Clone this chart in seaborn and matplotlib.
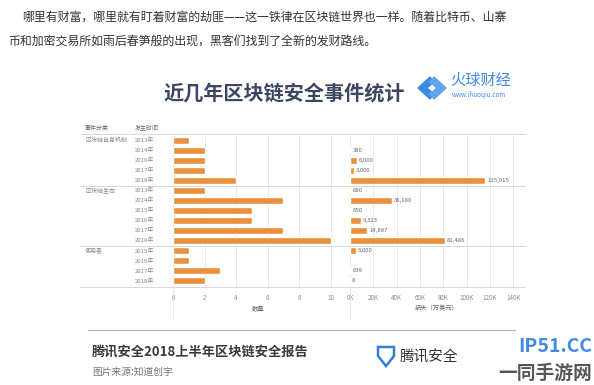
import numpy as np
import pandas as pd
import matplotlib.pyplot as plt
import seaborn as sns
from matplotlib.lines import Line2D
from matplotlib.patches import Polygon

sns.set_theme(style="white")
plt.rcParams['font.family'] = ['Noto Sans CJK SC', 'DejaVu Sans']

W, H = 594, 385

# ---- data ----
groups = ["区块链自身机制"] * 5 + ["区块链生态"] * 6 + ["使用者"] * 4
years = ["2013年", "2014年", "2016年", "2017年", "2018年",
         "2013年", "2014年", "2015年", "2016年", "2017年", "2018年",
         "2015年", "2016年", "2017年", "2018年"]
counts = [1, 2, 2, 2, 4, 2, 7, 5, 5, 7, 10, 1, 1, 3, 2]
losses = [np.nan, 380, 6000, 3000, 115915, 680, 36180, 650, 9323, 14887, 81486,
          5000, np.nan, 639, 8]
count_ticks = [0, 2, 4, 6, 8, 10]
loss_ticks = [0, 20000, 40000, 60000, 80000, 100000, 120000, 140000]
loss_tick_labels = ["0K", "20K", "40K", "60K", "80K", "100K", "120K", "140K"]

intro = ["哪里有财富，哪里就有盯着财富的劫匪——这一铁律在区块链世界也一样。随着比特币、山寨",
         "币和加密交易所如雨后春笋般的出现，黑客们找到了全新的发财路线。"]
title = "近几年区块链安全事件统计"
footer_title = "腾讯安全2018上半年区块链安全报告"
footer_src = "图片来源:知道创宇"

rows = [f"r{i}" for i in range(len(counts))]
df = pd.DataFrame({"row": rows, "group": groups, "year": years,
                   "count": counts, "loss": losses})

BAR = "#E8913A"
GRID = "#E4E4E4"
TXT = "#8A8A8A"


def fx(x):
    return x / W


def fy(y):
    return 1 - y / H


def add_ax(x0, x1, y0, y1):
    return fig.add_axes([fx(x0), fy(y1), (x1 - x0) / W, (y1 - y0) / H])


fig = plt.figure(figsize=(W / 100, H / 100), dpi=100)
fig.patch.set_facecolor("white")

# intro paragraph
fig.text(fx(22), fy(17), intro[0], fontsize=8.6, color="#333333", va="center")
fig.text(fx(8), fy(41), intro[1], fontsize=8.6, color="#333333", va="center")

# chart title + logo
fig.text(fx(284), fy(93), title, fontsize=14.5, fontweight="bold", color="#3B4762",
         ha="center", va="center")
fig.text(fx(450), fy(80), "火球财经", fontsize=11, color="#3C8CE7", va="center")
fig.text(fx(452), fy(95), "www.ihuoqiu.com", fontsize=4.5, color="#3C8CE7", va="center")
fig.patches.append(Polygon([[fx(430), fy(77)], [fx(418), fy(88)], [fx(430), fy(99)],
                            [fx(434), fy(94)], [fx(427), fy(88)], [fx(434), fy(82)]],
                           closed=True, transform=fig.transFigure, color="#3C8CE7"))
fig.patches.append(Polygon([[fx(434), fy(77)], [fx(446), fy(88)], [fx(434), fy(99)],
                            [fx(430), fy(94)], [fx(437), fy(88)], [fx(430), fy(82)]],
                           closed=True, transform=fig.transFigure, color="#5FA8F0"))

top, bottom = 134, 287
ylim = (14.6, -0.6)

# left panel: number of events
ax1 = add_ax(173, 347, top, bottom)
sns.barplot(data=df, y="row", x="count", order=rows, orient="h", color=BAR,
            width=0.7, saturation=1, ax=ax1)
ax1.set_xlim(0, 11.03)
ax1.set_xticks(count_ticks)

# right panel: losses
ax2 = add_ax(350, 525, top, bottom)
sns.barplot(data=df, y="row", x="loss", order=rows, orient="h", color=BAR,
            width=0.7, saturation=1, ax=ax2)
ax2.set_xlim(0, 150000)
ax2.set_xticks(loss_ticks)
ax2.set_xticklabels(loss_tick_labels)
for i, v in enumerate(losses):
    if not np.isnan(v):
        ax2.text(v + 1800, i, f"{v:,.0f}", fontsize=4.3, color="#666666", va="center")

for ax in (ax1, ax2):
    ax.set_ylim(*ylim)
    ax.set_yticks([])
    ax.set_ylabel("")
    ax.set_xlabel("")
    ax.set_facecolor("none")
    for s in ax.spines.values():
        s.set_visible(False)
    ax.grid(axis="x", color=GRID, linewidth=0.6)
    ax.set_axisbelow(True)
    ax.tick_params(axis="x", labelsize=4.5, labelcolor=TXT, length=0, pad=5)

# row labels
for i, (g, y) in enumerate(zip(groups, years)):
    yy = 140 + i * (281 - 140) / 14
    if i == 0 or groups[i - 1] != g:
        fig.text(fx(85), fy(yy), g, fontsize=4.3, color=TXT, va="center")
    fig.text(fx(135), fy(yy), y, fontsize=4.3, color=TXT, va="center")
fig.text(fx(85), fy(128), "事件分类", fontsize=4.3, color="#666666", va="center")
fig.text(fx(135), fy(128), "发生时间", fontsize=4.3, color="#666666", va="center")

# table lines
for yy in (134, 186, 246, 287):
    fig.add_artist(Line2D([fx(80), fx(525)], [fy(yy), fy(yy)], color="#D8D8D8", lw=0.7))
for xx in (173, 350):
    fig.add_artist(Line2D([fx(xx), fx(xx)], [fy(287), fy(318)], color=GRID, lw=0.6))

fig.text(fx(258), fy(308), "数量", fontsize=4.5, color="#666666", ha="center", va="center")
fig.text(fx(437), fy(308), "损失（万美元）", fontsize=4.5, color="#666666", ha="center", va="center")

# footer
fig.add_artist(Line2D([fx(88), fx(515)], [fy(330), fy(330)], color="#A9C0C6", lw=0.9))
fig.text(fx(92), fy(352), footer_title, fontsize=9.5, fontweight="bold", color="#3A3A3A",
         va="center")
fig.text(fx(92), fy(372), footer_src, fontsize=7, color="#777777", va="center")
fig.text(fx(400), fy(357), "腾讯安全", fontsize=10.5, color="#333333", va="center")
fig.patches.append(Polygon([[fx(378), fy(347)], [fx(394), fy(347)], [fx(394), fy(356)],
                            [fx(386), fy(366)], [fx(378), fy(356)]], closed=True,
                           transform=fig.transFigure, fill=False, ec="#2F7FD8", lw=1.8))

# site watermark
fig.text(fx(592), fy(347), "IP51.CC", fontsize=14, fontweight="bold", color="#2E7FE0",
         ha="right", va="center", alpha=0.9)
fig.text(fx(592), fy(373), "一同手游网", fontsize=13.5, fontweight="bold", color="#3A3A3A",
         ha="right", va="center", alpha=0.85)

fig.savefig("out.png", dpi=100)
